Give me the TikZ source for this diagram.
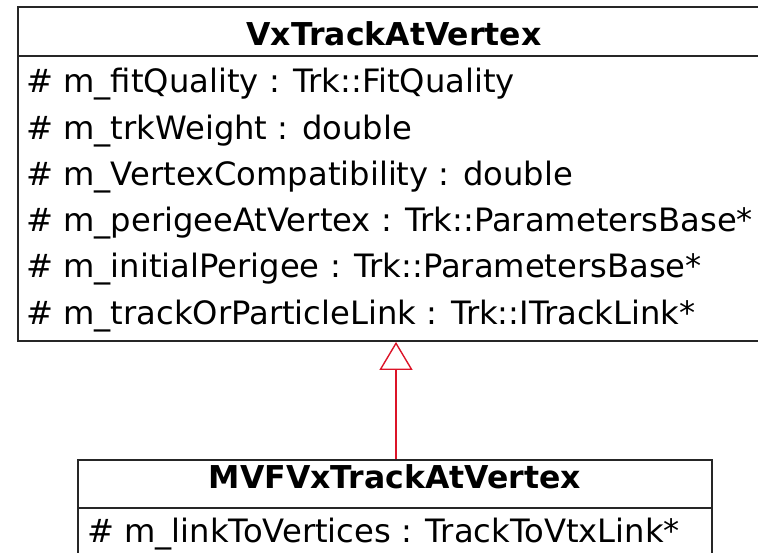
\documentclass[tikz,border=0pt]{standalone}
\usepackage{fontspec}
\setmainfont{DejaVu Sans}
\usetikzlibrary{arrows.meta}
\definecolor{inhred}{RGB}{220,20,40}
\tikzset{
  classbox/.style={draw=black!85, line width=1.8pt, fill=white, inner sep=0pt},
  sepline/.style={draw=black!85, line width=1.8pt},
  attr/.style={anchor=base west, inner sep=0pt, font=\fontsize{32.2}{36}\selectfont, text=black},
  title/.style={anchor=base, inner sep=0pt, font=\fontsize{31.5}{36}\selectfont\bfseries, text=black},
  inherit/.style={draw=inhred, line width=1.6pt, -{Triangle[open, length=28pt, width=33pt, line width=1.4pt]}}
}
\begin{document}
\begin{tikzpicture}[x=1pt, y=-1pt]
  \useasboundingbox (0,0) rectangle (758,552);
  \clip (0,0) rectangle (758,552);

  % base class
  \node[classbox, minimum width=752pt, minimum height=334pt] (base) at (394,174) {};
  \draw[sepline] (18,56) -- (770,56);
  \node[title] (basename) at (394,45) {VxTrackAtVertex};
  \node[attr] (a1) at (26,92)  {\# m\_fitQuality : Trk::FitQuality};
  \node[attr] (a2) at (26,139) {\# m\_trkWeight : double};
  \node[attr] (a3) at (26,185) {\# m\_VertexCompatibility : double};
  \node[attr] (a4) at (26,231) {\# m\_perigeeAtVertex : Trk::ParametersBase*};
  \node[attr] (a5) at (26,277) {\# m\_initialPerigee : Trk::ParametersBase*};
  \node[attr] (a6) at (26,324) {\# m\_trackOrParticleLink : Trk::ITrackLink*};

  % derived class
  \node[classbox, minimum width=634pt, minimum height=160pt] (derived) at (395,540) {};
  \draw[sepline] (78,508) -- (712,508);
  \node[title] (derivedname) at (395,488) {MVFVxTrackAtVertex};
  \node[attr] (b1) at (87,542) {\# m\_linkToVertices : TrackToVtxLink*};

  % generalisation
  \coordinate (gx) at (396,0);
  \draw[inherit] (derived.north -| gx) -- (base.south -| gx);
\end{tikzpicture}
\end{document}
